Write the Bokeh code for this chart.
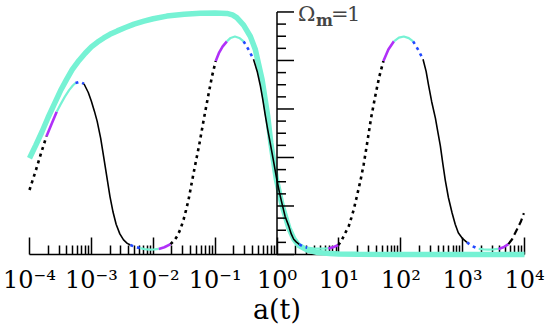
from bokeh.plotting import figure
from bokeh.models import FixedTicker, CustomJSTickFormatter, Range1d, Label
from bokeh.embed import file_html
from bokeh.resources import INLINE

# ---------------- data ----------------
decade_exps = [-4, -3, -2, -1, 0, 1, 2, 3, 4]
minor_mult = [2, 3, 4, 5, 6, 7, 8, 9]

# vertical (Omega_m) axis drawn at a = 1
omega_ticks = [0.00, 0.05, 0.10, 0.15, 0.20, 0.25, 0.30, 0.35, 0.40, 0.45, 0.50,
               0.55, 0.60, 0.65, 0.70, 0.75, 0.80, 0.85, 0.90, 0.95, 1.00]
omega_major = [0.0, 0.2, 0.4, 0.6, 0.8, 1.0]

# thick cyan curve: Omega_m(a)
om_loga = [-4.00, -3.90, -3.80, -3.70, -3.60, -3.50, -3.40, -3.31, -3.20, -3.10,
           -3.00, -2.90, -2.80, -2.70, -2.58, -2.45, -2.31, -2.15, -2.00, -1.78,
           -1.50, -1.24, -1.00, -0.81, -0.72, -0.65, -0.54, -0.43, -0.35, -0.24,
           -0.15, -0.10, -0.01, 0.08, 0.19, 0.27, 0.35, 0.49, 0.66, 0.85,
           1.00, 1.30, 2.00, 3.00, 4.00]
om_val = [0.397, 0.45, 0.505, 0.565, 0.62, 0.675, 0.722, 0.762, 0.80, 0.83,
          0.856, 0.876, 0.893, 0.908, 0.922, 0.936, 0.950, 0.962, 0.972, 0.983,
          0.991, 0.995, 0.996, 0.994, 0.988, 0.977, 0.946, 0.899, 0.845, 0.72,
          0.57, 0.46, 0.31, 0.205, 0.11, 0.065, 0.038, 0.018, 0.008, 0.004,
          0.002, 0.001, 0.0, 0.0, 0.0]

# oscillating curve
f_loga = [-4.00, -3.90, -3.81, -3.725, -3.64, -3.56, -3.50, -3.43, -3.36, -3.30,
          -3.257, -3.19, -3.12, -3.05, -3.00, -2.95, -2.906, -2.85, -2.80, -2.75,
          -2.70, -2.65, -2.60, -2.54, -2.48, -2.42, -2.37, -2.29, -2.21, -2.14,
          -2.06, -1.98, -1.91, -1.82, -1.72, -1.66, -1.61, -1.56, -1.51, -1.47,
          -1.43, -1.36, -1.31, -1.26, -1.18, -1.10, -1.05, -0.99, -0.94, -0.88,
          -0.81, -0.75, -0.68, -0.61, -0.54, -0.46, -0.38, -0.32, -0.27, -0.23,
          -0.19, -0.15, -0.11, -0.06, -0.01, 0.04, 0.08, 0.13, 0.19, 0.23,
          0.27, 0.31, 0.36, 0.43, 0.49, 0.58, 0.66, 0.75, 0.83, 0.92,
          0.99, 1.04, 1.08, 1.16, 1.20, 1.24, 1.29, 1.35, 1.40, 1.45,
          1.52, 1.59, 1.65, 1.72, 1.80, 1.89, 1.97, 2.05, 2.13, 2.20,
          2.28, 2.36, 2.41, 2.45, 2.50, 2.56, 2.60, 2.64, 2.68, 2.72,
          2.77, 2.83, 2.88, 2.93, 3.00, 3.07, 3.16, 3.26, 3.34, 3.42,
          3.50, 3.58, 3.66, 3.74, 3.80, 3.88, 3.94, 3.99]
f_val = [0.266, 0.345, 0.42, 0.488, 0.54, 0.589, 0.618, 0.650, 0.678, 0.697,
         0.707, 0.712, 0.704, 0.668, 0.632, 0.59, 0.549, 0.48, 0.40, 0.32,
         0.24, 0.175, 0.125, 0.085, 0.060, 0.046, 0.039, 0.031, 0.026, 0.022,
         0.020, 0.021, 0.023, 0.030, 0.043, 0.058, 0.077, 0.105, 0.144, 0.183,
         0.225, 0.32, 0.385, 0.448, 0.562, 0.67, 0.735, 0.798, 0.83, 0.857,
         0.879, 0.893, 0.899, 0.893, 0.879, 0.845, 0.805, 0.755, 0.697, 0.64,
         0.575, 0.515, 0.46, 0.39, 0.319, 0.255, 0.211, 0.158, 0.117, 0.085,
         0.063, 0.052, 0.042, 0.032, 0.028, 0.025, 0.024, 0.024, 0.025, 0.031,
         0.039, 0.055, 0.077, 0.117, 0.15, 0.185, 0.239, 0.306, 0.37, 0.448,
         0.562, 0.656, 0.73, 0.798, 0.845, 0.879, 0.894, 0.899, 0.892, 0.879,
         0.845, 0.805, 0.755, 0.697, 0.63, 0.562, 0.505, 0.448, 0.375, 0.306,
         0.235, 0.171, 0.125, 0.09, 0.065, 0.05, 0.034, 0.023, 0.021, 0.020,
         0.021, 0.023, 0.030, 0.043, 0.063, 0.104, 0.135, 0.171]

seg_styles = ["dotted", "purple", "cyan", "blue", "black", "blue", "cyan", "purple",
              "dotted", "purple", "cyan", "blue", "black", "blue", "cyan", "purple",
              "dotted", "purple", "cyan", "blue", "black", "blue", "cyan", "purple",
              "dashed"]
seg_breaks = [0, 3, 5, 10, 12, 26, 28, 32, 34, 47, 50, 54, 56, 72, 74, 78, 80,
              93, 95, 99, 101, 115, 117, 121, 123, 127]

# ---------------- styles ----------------
CYAN = "#76f2d4"
STYLE = {
    "dotted": dict(line_color="black", line_width=2.6, line_dash="3 4"),
    "purple": dict(line_color="#b030f8", line_width=2.6),
    "cyan":   dict(line_color=CYAN, line_width=2.2),
    "blue":   dict(line_color="#2048ff", line_width=2.6, line_dash="3 4"),
    "black":  dict(line_color="black", line_width=1.6),
    "dashed": dict(line_color="black", line_width=2.2, line_dash="7 4"),
}
FONT = "DejaVu Serif"

x_lo, x_hi = 10.0 ** decade_exps[0], 10.0 ** decade_exps[-1]
y_top = 1.0473

p = figure(width=545, height=327, x_axis_type="log", y_axis_location=None,
           x_range=Range1d(x_lo, x_hi), y_range=Range1d(0, y_top),
           output_backend="svg", toolbar_location=None,
           min_border_left=29, min_border_right=21, min_border_top=0,
           min_border_bottom=68)
p.outline_line_color = None
p.grid.visible = False
p.background_fill_color = "white"
p.border_fill_color = "white"

# x axis
ax = p.xaxis[0]
ax.ticker = FixedTicker(ticks=[10.0 ** e for e in decade_exps],
                        minor_ticks=[m * 10.0 ** e for e in decade_exps[:-1] for m in minor_mult])
ax.formatter = CustomJSTickFormatter(code="""
const sup = {"-": "\u207b", "0": "\u2070", "1": "\u00b9", "2": "\u00b2", "3": "\u00b3",
             "4": "\u2074", "5": "\u2075", "6": "\u2076", "7": "\u2077", "8": "\u2078", "9": "\u2079"};
const e = Math.round(Math.log10(tick));
return "10" + String(e).split("").map(c => sup[c]).join("");
""")
ax.major_tick_in = 17
ax.major_tick_out = 0
ax.minor_tick_in = 9
ax.minor_tick_out = 0
ax.axis_line_width = 1.5
ax.major_tick_line_width = 1.5
ax.minor_tick_line_width = 1.5
ax.major_label_text_font = FONT
ax.major_label_text_font_size = "24px"
ax.major_label_text_color = "black"
ax.major_label_standoff = 11
ax.axis_label = "a(t)"
ax.axis_label_text_font = FONT
ax.axis_label_text_font_size = "27px"
ax.axis_label_text_font_style = "normal"
ax.axis_label_text_color = "black"
ax.axis_label_standoff = -3

# thick cyan Omega_m curve (drawn above the x axis line, like the original)
r = p.line([10.0 ** v for v in om_loga], om_val, line_color=CYAN, line_width=5.5)
r.level = "overlay"

# oscillating curve, drawn run by run
for i, st in enumerate(seg_styles):
    a0, a1 = seg_breaks[i], seg_breaks[i + 1]
    r = p.line([10.0 ** v for v in f_loga[a0:a1 + 1]], f_val[a0:a1 + 1], **STYLE[st])
    r.level = "overlay"

# vertical axis at a = 1
r = p.segment(x0=[1.0], y0=[omega_ticks[0]], x1=[1.0], y1=[omega_ticks[-1]],
              line_color="black", line_width=1.5)
r.level = "overlay"
tick_len = [17 if t in omega_major else 9 for t in omega_ticks]
r = p.ray(x=[1.0] * len(omega_ticks), y=omega_ticks, length=tick_len,
          length_units="screen", angle=0, line_color="black", line_width=1.5)
r.level = "overlay"

# Omega_m = 1 label
lab_y = 0.992
p.add_layout(Label(x=1.0, y=lab_y, x_offset=21, text="\u03a9", text_baseline="alphabetic",
                   text_font=FONT, text_font_size="21px"))
p.add_layout(Label(x=1.0, y=lab_y, x_offset=39, y_offset=-7, text="m", text_baseline="alphabetic",
                   text_font=FONT, text_font_size="16px", text_font_style="bold"))
p.add_layout(Label(x=1.0, y=lab_y, x_offset=54, text="=", text_baseline="alphabetic",
                   text_font=FONT, text_font_size="21px"))
p.add_layout(Label(x=1.0, y=lab_y, x_offset=70, text="1", text_baseline="alphabetic",
                   text_font=FONT, text_font_size="21px"))

open("out.html", "w").write(file_html(p, INLINE))
